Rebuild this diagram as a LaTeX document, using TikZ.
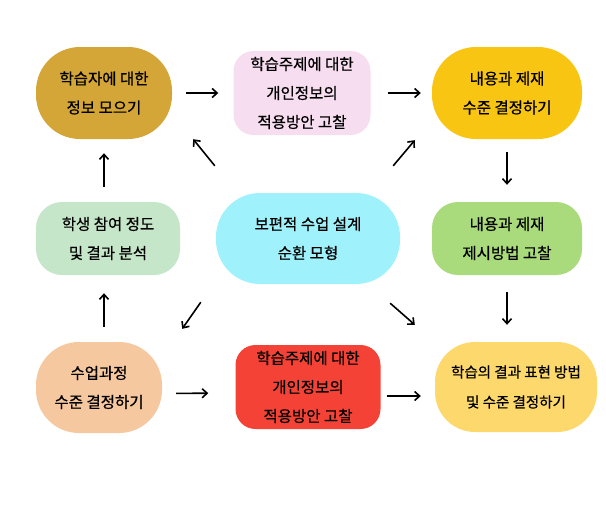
\documentclass[tikz,border=0pt]{standalone}
\usepackage{fontspec}
\newfontfamily\kr[FakeBold=0.6]{Noto Sans CJK KR}
\usetikzlibrary{arrows.meta}

\definecolor{goldbox}{RGB}{212,165,55}
\definecolor{pinkbox}{RGB}{247,221,240}
\definecolor{sunbox}{RGB}{249,197,19}
\definecolor{mintbox}{RGB}{197,230,200}
\definecolor{cyanbox}{RGB}{159,241,251}
\definecolor{limebox}{RGB}{169,218,123}
\definecolor{peachbox}{RGB}{246,200,160}
\definecolor{redbox}{RGB}{244,67,54}
\definecolor{creambox}{RGB}{253,217,109}

\tikzset{
  box/.style={inner sep=0pt, align=center, font={\kr\fontsize{15.5}{29}\selectfont}},
  arr/.style={-{Straight Barb[length=5pt,width=9pt]}, line width=1.6pt}
}

\begin{document}
\begin{tikzpicture}[x=1pt, y=-1pt]
  \useasboundingbox (0,0) rectangle (606,531);

  % top row
  \node[box, fill=goldbox, minimum width=136pt, minimum height=92pt, rounded corners=44pt]
    (info) at (104,93) {학습자에 대한\\정보 모으기};
  \node[box, fill=pinkbox, minimum width=137pt, minimum height=84pt, rounded corners=20pt]
    (topicA) at (302,93) {학습주제에 대한\\개인정보의\\적용방안 고찰};
  \node[box, fill=sunbox, minimum width=150pt, minimum height=92pt, rounded corners=44pt]
    (level) at (507,93) {내용과 제재\\수준 결정하기};

  % middle row
  \node[box, fill=mintbox, minimum width=144pt, minimum height=73pt, rounded corners=26pt]
    (analysis) at (108,238.5) {학생 참여 정도\\및 결과 분석};
  \node[box, fill=cyanbox, minimum width=184pt, minimum height=91pt, rounded corners=44pt]
    (model) at (308,238.5) {보편적 수업 설계\\순환 모형};
  \node[box, fill=limebox, minimum width=150pt, minimum height=73pt, rounded corners=26pt]
    (method) at (507,238.5) {내용과 제재\\제시방법 고찰};

  % bottom row
  \node[box, fill=peachbox, minimum width=126pt, minimum height=91pt, rounded corners=43pt]
    (process) at (99,387.5) {수업과정\\수준 결정하기};
  \node[box, fill=redbox, minimum width=145pt, minimum height=84pt, rounded corners=20pt]
    (topicB) at (308,387) {학습주제에 대한\\개인정보의\\적용방안 고찰};
  \node[box, fill=creambox, minimum width=162pt, minimum height=90pt, rounded corners=40pt,
    font={\kr\fontsize{14.5}{30}\selectfont}]
    (result) at (516,387) {학습의 결과 표현 방법\\및 수준 결정하기};

  % cycle arrows
  \draw[arr, shorten <=14pt, shorten >=15pt] (info) -- (topicA);
  \draw[arr, shorten <=17pt, shorten >=11pt] (topicA) -- (level);
  \draw[arr, shorten <=13pt, shorten >=17pt] (level.south) -- (method.north);
  \draw[arr, shorten <=17pt, shorten >=17pt] (method.south) -- (method.south |- result.north);
  \draw[arr, shorten <=14pt, shorten >=27pt] ([shift={(0,6)}]process.east) -- ([shift={(0,6)}]topicB.west);
  \draw[arr, shorten <=6pt, shorten >=14pt] ([shift={(0,9)}]topicB.east) -- ([shift={(0,9)}]result.west);
  \draw[arr, shorten <=15pt, shorten >=18pt] (info.south |- process.north) -- (info.south |- analysis.south);
  \draw[arr, shorten <=15pt, shorten >=14pt] (info.south |- analysis.north) -- (info.south);

  % arrows from the centre
  \draw[arr] ([shift={(-1,-27)}]model.north west) -- ([shift={(21,0)}]info.south east);
  \draw[arr] ([shift={(-7,-27)}]model.north east) -- ([shift={(-17,1)}]level.south west);
  \draw[arr] ([shift={(-15,18)}]model.south west) -- ([shift={(20,-13)}]process.north east);
  \draw[arr] ([shift={(-10,19)}]model.south east) -- ([shift={(-20,-17)}]result.north west);
\end{tikzpicture}
\end{document}
